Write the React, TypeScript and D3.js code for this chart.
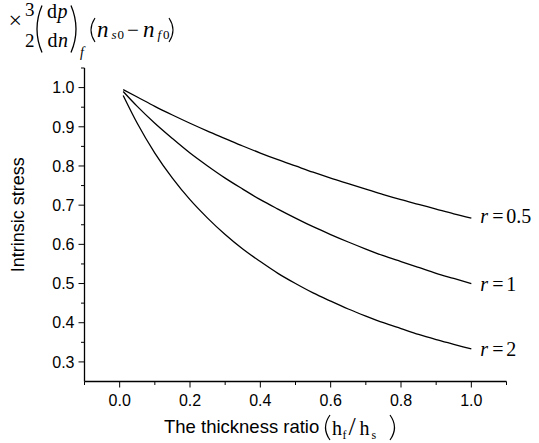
import React from "react";
import * as d3 from "d3";

const thickness = [0.01, 0.05, 0.1, 0.15, 0.2, 0.25, 0.3, 0.35, 0.4, 0.45, 0.5, 0.55, 0.6, 0.65, 0.7, 0.75, 0.8, 0.85, 0.9, 0.95, 1.0];
const stressR05 = [0.995, 0.976, 0.952, 0.930, 0.909, 0.889, 0.870, 0.851, 0.833, 0.816, 0.800, 0.784, 0.769, 0.755, 0.741, 0.727, 0.714, 0.702, 0.690, 0.678, 0.667];
const stressR1 = [0.990, 0.952, 0.909, 0.870, 0.833, 0.800, 0.769, 0.741, 0.714, 0.690, 0.667, 0.645, 0.625, 0.606, 0.588, 0.571, 0.556, 0.541, 0.526, 0.513, 0.500];
const stressR2 = [0.980, 0.909, 0.833, 0.769, 0.714, 0.667, 0.625, 0.588, 0.556, 0.526, 0.500, 0.476, 0.455, 0.435, 0.417, 0.400, 0.385, 0.370, 0.357, 0.345, 0.333];
const seriesLabels = ["0.5", "1", "2"];

const xMajor = [0, 0.2, 0.4, 0.6, 0.8, 1.0];
const xMinor = [-0.1, 0.1, 0.3, 0.5, 0.7, 0.9, 1.1];
const yMajor = [0.3, 0.4, 0.5, 0.6, 0.7, 0.8, 0.9, 1.0];
const yMinor = [0.35, 0.45, 0.55, 0.65, 0.75, 0.85, 0.95, 1.05];

export default function App() {
  const W = 539, H = 443;
  const x = d3.scaleLinear().domain([-0.1, 1.1]).range([84.5, 506.5]);
  const y = d3.scaleLinear().domain([0.25, 1.05]).range([381.5, 68]);
  const line = d3
    .line<[number, number]>()
    .x((d) => x(d[0]))
    .y((d) => y(d[1]))
    .curve(d3.curveMonotoneX);
  const series = [stressR05, stressR1, stressR2];
  const sans = "'Liberation Sans', Arial, sans-serif";
  const serif = "'Liberation Serif', 'Times New Roman', serif";
  const x0 = x.range()[0];
  const y0 = y.range()[0];

  return (
    <svg width={W} height={H} style={{ position: "absolute", left: 0, top: 0, background: "#fff" }}>
      {/* axes */}
      <line x1={x0} x2={x0} y1={y(1.05)} y2={y0} stroke="#000" strokeWidth={1.3} />
      <line x1={x0} x2={x(1.1)} y1={y0} y2={y0} stroke="#000" strokeWidth={1.3} />
      {yMajor.map((v) => (
        <g key={"ym" + v}>
          <line x1={x0 - 6} x2={x0} y1={y(v)} y2={y(v)} stroke="#000" strokeWidth={1} />
          <text x={x0 - 10} y={y(v)} dy="0.36em" textAnchor="end" fontFamily={sans} fontSize={16}>
            {d3.format(".1f")(v)}
          </text>
        </g>
      ))}
      {yMinor.map((v) => (
        <line key={"yn" + v} x1={x0 - 3.5} x2={x0} y1={y(v)} y2={y(v)} stroke="#000" strokeWidth={1} />
      ))}
      {xMajor.map((v) => (
        <g key={"xm" + v}>
          <line x1={x(v)} x2={x(v)} y1={y0} y2={y0 + 6} stroke="#000" strokeWidth={1} />
          <text x={x(v)} y={y0 + 24} textAnchor="middle" fontFamily={sans} fontSize={16}>
            {d3.format(".1f")(v)}
          </text>
        </g>
      ))}
      {xMinor.map((v) => (
        <line key={"xn" + v} x1={x(v)} x2={x(v)} y1={y0} y2={y0 + 3.5} stroke="#000" strokeWidth={1} />
      ))}

      {/* curves */}
      {series.map((s, i) => (
        <path
          key={i}
          d={line(thickness.map((t, j) => [t, s[j]] as [number, number])) || ""}
          fill="none"
          stroke="#000"
          strokeWidth={1.3}
        />
      ))}
      {series.map((s, i) => {
        const by = y(s[s.length - 1]) + 5 + (i > 0 ? 2 : 0);
        return (
          <g key={"l" + i} fontFamily={serif} fontSize={20}>
            <text x={x(1.0) + 9} y={by} fontStyle="italic">r</text>
            <text x={x(1.0) + 21} y={by}>=</text>
            <text x={x(1.0) + 35} y={by}>{seriesLabels[i]}</text>
          </g>
        );
      })}

      {/* axis titles */}
      <text
        transform={`translate(24,${(y(1.05) + y0) / 2 - 10}) rotate(-90)`}
        textAnchor="middle"
        fontFamily={sans}
        fontSize={18}
      >
        Intrinsic stress
      </text>
      <text x={164} y={433} fontFamily={sans} fontSize={18.5}>
        The thickness ratio
      </text>
      <g fontFamily={serif}>
        <path d="M330,415 Q321,427.5 330,440" fill="none" stroke="#000" strokeWidth={1.2} />
        <text x={332} y={435} fontSize={20}>h</text>
        <text x={342.5} y={439} fontSize={12}>f</text>
        <text x={348.5} y={435} fontSize={26}>/</text>
        <text x={359.5} y={435} fontSize={20}>h</text>
        <text x={371.5} y={439} fontSize={12}>s</text>
        <path d="M390,415 Q399,427.5 390,440" fill="none" stroke="#000" strokeWidth={1.2} />
      </g>

      {/* top-left factor */}
      <g fontFamily={serif}>
        <text x={8.5} y={28} fontSize={24}>×</text>
        <text x={25} y={16} fontSize={19}>3</text>
        <text x={25} y={46.5} fontSize={19}>2</text>
        <path d="M42,5.5 Q32,29 42,52.5" fill="none" stroke="#000" strokeWidth={1.3} />
        <text x={47} y={17.5} fontSize={20}>d</text>
        <text x={57.5} y={17.5} fontSize={20} fontStyle="italic">p</text>
        <text x={47.5} y={46.5} fontSize={20}>d</text>
        <text x={58} y={46.5} fontSize={20} fontStyle="italic">n</text>
        <path d="M71,5.5 Q81,29 71,52.5" fill="none" stroke="#000" strokeWidth={1.3} />
        <text x={80} y={57} fontSize={14} fontStyle="italic">f</text>
        <path d="M95,18 Q87,30 95,42" fill="none" stroke="#000" strokeWidth={1.1} />
        <text x={97} y={37} fontSize={23} fontStyle="italic">n</text>
        <text x={111.5} y={39} fontSize={13} fontStyle="italic">s</text>
        <text x={117.5} y={39} fontSize={13}>0</text>
        <text x={127} y={37} fontSize={21}>−</text>
        <text x={143} y={37} fontSize={23} fontStyle="italic">n</text>
        <text x={157.5} y={39} fontSize={13} fontStyle="italic">f</text>
        <text x={163} y={39} fontSize={13}>0</text>
        <path d="M169,18 Q177,30 169,42" fill="none" stroke="#000" strokeWidth={1.1} />
      </g>
    </svg>
  );
}
